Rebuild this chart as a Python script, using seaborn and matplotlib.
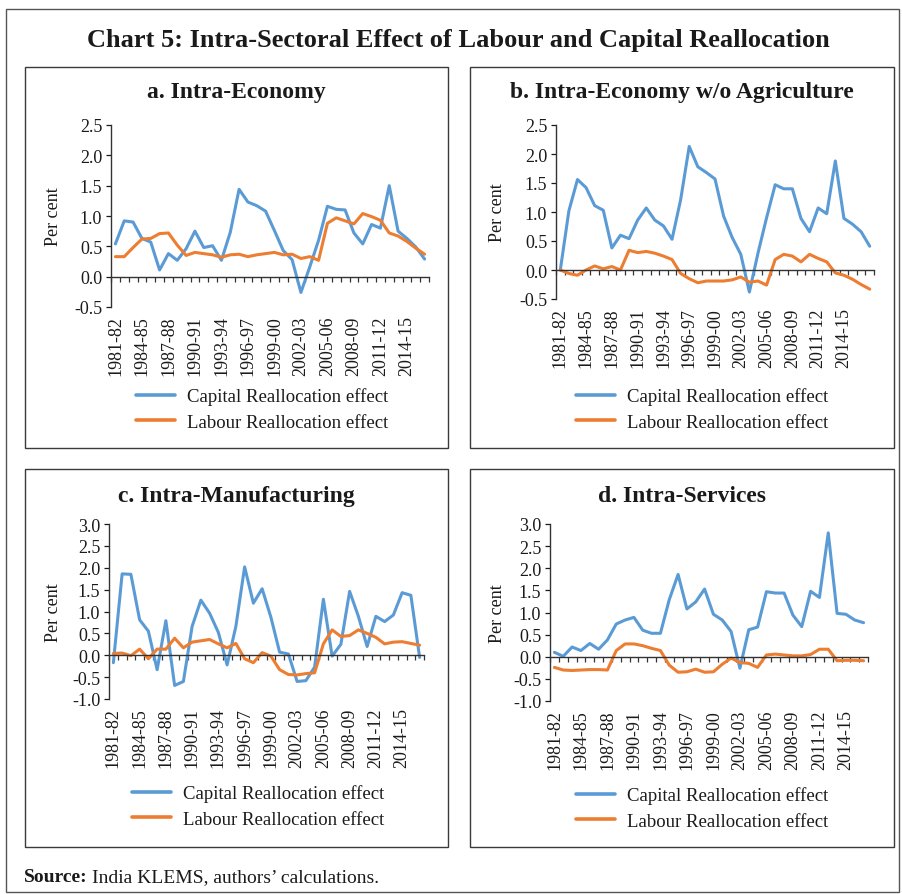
import numpy as np
import pandas as pd
import matplotlib
matplotlib.use("Agg")
import matplotlib.pyplot as plt
import seaborn as sns
from matplotlib.patches import Rectangle
from matplotlib.lines import Line2D
from matplotlib.ticker import FormatStrFormatter

# ---------------- data ----------------
years = ["1981-82", "1982-83", "1983-84", "1984-85", "1985-86", "1986-87", "1987-88",
         "1988-89", "1989-90", "1990-91", "1991-92", "1992-93", "1993-94", "1994-95",
         "1995-96", "1996-97", "1997-98", "1998-99", "1999-00", "2000-01", "2001-02",
         "2002-03", "2003-04", "2004-05", "2005-06", "2006-07", "2007-08", "2008-09",
         "2009-10", "2010-11", "2011-12", "2012-13", "2013-14", "2014-15", "2015-16",
         "2016-17", "2017-18"]

a_capital = [0.54, 0.92, 0.90, 0.63, 0.57, 0.11, 0.38, 0.27, 0.46, 0.75, 0.48, 0.51,
             0.27, 0.73, 1.44, 1.23, 1.17, 1.08, 0.76, 0.43, 0.28, -0.26, 0.16, 0.60,
             1.16, 1.11, 1.10, 0.72, 0.54, 0.86, 0.80, 1.50, 0.75, 0.63, 0.49, 0.29]
a_labour = [0.33, 0.33, 0.48, 0.62, 0.63, 0.71, 0.72, 0.52, 0.35, 0.40, 0.38, 0.36,
            0.32, 0.36, 0.37, 0.33, 0.36, 0.38, 0.40, 0.36, 0.37, 0.30, 0.33, 0.27,
            0.88, 0.97, 0.92, 0.87, 1.04, 0.99, 0.93, 0.72, 0.67, 0.58, 0.47, 0.37]

b_capital = [0.00, 1.02, 1.56, 1.42, 1.11, 1.03, 0.38, 0.60, 0.54, 0.86, 1.07, 0.86,
             0.76, 0.53, 1.21, 2.13, 1.78, 1.68, 1.57, 0.93, 0.56, 0.27, -0.38, 0.29,
             0.90, 1.47, 1.40, 1.40, 0.89, 0.66, 1.07, 0.97, 1.88, 0.89, 0.79, 0.66, 0.41]
b_labour = [0.00, -0.06, -0.09, 0.00, 0.07, 0.02, 0.06, 0.00, 0.34, 0.30, 0.32, 0.29,
            0.24, 0.18, -0.06, -0.15, -0.22, -0.19, -0.19, -0.19, -0.17, -0.12, -0.21,
            -0.19, -0.26, 0.18, 0.27, 0.24, 0.14, 0.27, 0.20, 0.14, -0.05, -0.09, -0.16,
            -0.25, -0.33]

c_capital = [-0.17, 1.86, 1.85, 0.81, 0.55, -0.33, 0.79, -0.69, -0.60, 0.66, 1.26, 0.96,
             0.52, -0.22, 0.66, 2.02, 1.19, 1.52, 0.87, 0.07, 0.03, -0.60, -0.58, -0.27,
             1.28, -0.02, 0.25, 1.46, 0.89, 0.20, 0.89, 0.77, 0.92, 1.43, 1.37, -0.05]
c_labour = [0.04, 0.05, -0.01, 0.14, -0.08, 0.14, 0.14, 0.39, 0.17, 0.30, 0.33, 0.36,
            0.26, 0.17, 0.27, -0.08, -0.17, 0.06, -0.02, -0.33, -0.44, -0.45, -0.42, -0.40,
            0.26, 0.58, 0.43, 0.45, 0.58, 0.50, 0.41, 0.26, 0.30, 0.31, 0.27, 0.23]

d_capital = [0.10, 0.01, 0.22, 0.14, 0.30, 0.17, 0.38, 0.74, 0.83, 0.89, 0.60, 0.53,
             0.53, 1.29, 1.86, 1.08, 1.24, 1.53, 0.96, 0.83, 0.57, -0.26, 0.61, 0.67,
             1.47, 1.44, 1.44, 0.94, 0.68, 1.48, 1.34, 2.80, 0.98, 0.96, 0.83, 0.77]
d_labour = [-0.24, -0.30, -0.31, -0.30, -0.29, -0.29, -0.30, 0.14, 0.29, 0.29, 0.25, 0.19,
            0.14, -0.19, -0.35, -0.34, -0.28, -0.35, -0.34, -0.17, -0.03, -0.13, -0.15, -0.24,
            0.04, 0.06, 0.04, 0.02, 0.02, 0.05, 0.17, 0.17, -0.09, -0.08, -0.08, -0.09]

series_names = ["Capital Reallocation effect", "Labour Reallocation effect"]
colors = {"Capital Reallocation effect": "#5B9BD5", "Labour Reallocation effect": "#ED7D31"}
label_idx = list(range(0, 34, 3))  # 1981-82 ... 2014-15

# ---------------- style ----------------
sns.set_theme(style="white")
plt.rcParams["font.family"] = ["Liberation Serif", "DejaVu Serif"]
plt.rcParams["axes.unicode_minus"] = False

W, H = 902, 895
fig = plt.figure(figsize=(W / 100, H / 100), dpi=100)
fig.patch.set_facecolor("white")


def frect(x0, y0, x1, y1):
    return [x0 / W, 1 - y1 / H, (x1 - x0) / W, (y1 - y0) / H]


def box(x0, y0, x1, y1, color="#3a3a3a", lw=1.0):
    fig.add_artist(Rectangle((x0 / W, 1 - y1 / H), (x1 - x0) / W, (y1 - y0) / H,
                             transform=fig.transFigure, fill=False,
                             edgecolor=color, linewidth=lw))


# outer border
box(6, 10, 899, 893, color="#555555", lw=1.0)
fig.text(458 / W, 1 - 40 / H,
         "Chart 5: Intra-Sectoral Effect of Labour and Capital Reallocation",
         ha="center", va="center", fontsize=19, fontweight="bold", color="#1a1a1a")

panels = [
    dict(title="a. Intra-Economy", cap=a_capital, lab=a_labour,
         ax=(111, 126, 429, 308), ylim=(-0.5, 2.5), box=(25, 68, 448, 449),
         title_y=93, ylab_x=53, leg=(136, 410)),
    dict(title="b. Intra-Economy w/o Agriculture", cap=b_capital, lab=b_labour,
         ax=(556, 126, 874, 300), ylim=(-0.5, 2.5), box=(470, 68, 894, 449),
         title_y=93, ylab_x=498, leg=(576, 410)),
    dict(title="c. Intra-Manufacturing", cap=c_capital, lab=c_labour,
         ax=(109, 525, 424, 700), ylim=(-1.0, 3.0), box=(25, 470, 448, 848),
         title_y=497, ylab_x=54, leg=(132, 807)),
    dict(title="d. Intra-Services", cap=d_capital, lab=d_labour,
         ax=(550, 525, 868, 702), ylim=(-1.0, 3.0), box=(470, 470, 894, 848),
         title_y=497, ylab_x=497, leg=(576, 809)),
]

for p in panels:
    n = len(p["cap"])
    x0, y0, x1, y1 = p["ax"]
    ax = fig.add_axes(frect(x0, y0, x1, y1))
    ax.set_facecolor("none")
    df = pd.DataFrame({
        "pos": list(range(n)) * 2,
        "value": p["cap"] + p["lab"],
        "series": [series_names[0]] * n + [series_names[1]] * n,
    })
    sns.lineplot(data=df, x="pos", y="value", hue="series", hue_order=series_names,
                 palette=colors, linewidth=2.2, legend=False, ax=ax)
    ax.set_xlim(-0.5, n - 0.5)
    ax.set_ylim(*p["ylim"])
    ax.set_xlabel("")
    ax.set_ylabel("")
    for s in ["top", "right"]:
        ax.spines[s].set_visible(False)
    ax.spines["bottom"].set_position(("data", 0))
    for s in ["bottom", "left"]:
        ax.spines[s].set_color("#333333")
        ax.spines[s].set_linewidth(1.0)
    ax.set_yticks(np.arange(p["ylim"][0], p["ylim"][1] + 0.01, 0.5))
    ax.yaxis.set_major_formatter(FormatStrFormatter("%.1f"))
    ax.tick_params(axis="y", direction="out", length=3.8, width=0.9, pad=2.5,
                   labelsize=13, colors="#1a1a1a", left=True)
    ax.set_xticks(np.arange(-0.5, n, 1.0))
    ax.tick_params(axis="x", direction="out", length=3.8, width=0.9, labelbottom=False,
                   colors="#333333", bottom=True)
    sec = ax.secondary_xaxis("bottom")
    sec.set_xticks(label_idx)
    sec.set_xticklabels([years[i] for i in label_idx], rotation=90)
    sec.tick_params(length=0, pad=6, labelsize=13, colors="#1a1a1a")
    sec.spines["bottom"].set_visible(False)
    ax.grid(False)

    # panel frame & title
    box(*p["box"])
    bx0, by0, bx1, by1 = p["box"]
    fig.text((bx0 + bx1) / 2 / W, 1 - p["title_y"] / H, p["title"], ha="center",
             va="center", fontsize=17, fontweight="bold", color="#1a1a1a")
    fig.text(p["ylab_x"] / W, 1 - (y0 + y1) / 2 / H, "Per cent", rotation=90,
             ha="center", va="center", fontsize=13, color="#1a1a1a")

    handles = [Line2D([], [], color=colors[s], lw=2.6) for s in series_names]
    ax.legend(handles, series_names, loc="center left",
              bbox_to_anchor=(p["leg"][0] / W, 1 - p["leg"][1] / H),
              bbox_transform=fig.transFigure, frameon=False, fontsize=13.5,
              handlelength=2.1, handletextpad=0.6, labelspacing=0.45,
              borderpad=0, borderaxespad=0, labelcolor="#1a1a1a")

# source line
t1 = fig.text(24 / W, 1 - 878 / H, "Source:", ha="left", va="center",
              fontsize=14, fontweight="bold", color="#1a1a1a")
fig.canvas.draw()
bb = t1.get_window_extent()
fig.text((bb.x1 + 4) / W, 1 - 878 / H, "India KLEMS, authors\u2019 calculations.",
         ha="left", va="center", fontsize=14, color="#1a1a1a")

fig.savefig("out.png", dpi=100, facecolor="white")
